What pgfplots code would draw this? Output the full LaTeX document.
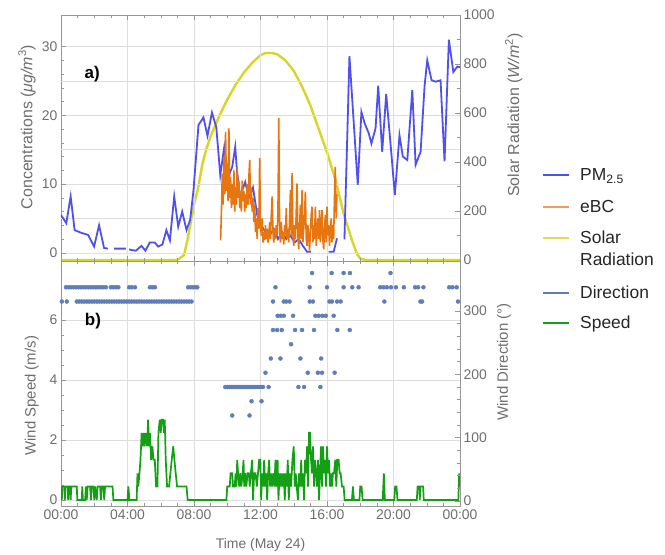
\documentclass[border=0pt]{standalone}
\usepackage{pgfplots}
\pgfplotsset{compat=1.18}
\usepackage{fontspec}
\setmainfont{Liberation Sans}

\definecolor{pmblue}{RGB}{80,80,240}
\definecolor{ebcorange}{RGB}{232,118,16}
\definecolor{solaryellow}{RGB}{214,214,40}
\definecolor{dirblue}{RGB}{95,125,185}
\definecolor{spdgreen}{RGB}{20,160,20}
\definecolor{framegray}{RGB}{150,150,150}
\definecolor{gridgray}{RGB}{222,222,222}
\definecolor{labelgray}{RGB}{110,110,110}

\pgfplotsset{
  panel/.style={
    scale only axis, width=399bp, xmin=0, xmax=24,
    tick align=inside,
    axis line style={framegray, line width=0.6bp},
    every tick/.style={framegray, line width=0.5bp},
    major tick length=5bp, minor tick length=3bp,
    tick label style={font=\fontsize{14}{16}\selectfont, text=labelgray},
    label style={font=\fontsize{15}{17}\selectfont, text=labelgray},
    xlabel style={font=\fontsize{14}{16}\selectfont},
    /pgf/number format/assume math mode=true,
    /pgf/number format/1000 sep={},
    xtick={0,4,...,24}, minor x tick num=3,
    grid style={gridgray, line width=0.5bp},
  },
  legline/.style={legend image code/.code={\draw[##1] (0bp,5.5bp) -- (26bp,5.5bp);}},
}
% struts that set the spacing of the legend rows
\newcommand{\lrow}[2]{\rule[-#1bp]{0pt}{#2bp}}

\begin{document}
\begin{tikzpicture}
\path (-61bp,15bp) rectangle (604bp,-537bp);

% ---- panel a), right axis: solar radiation
\begin{axis}[panel, at={(0,0)}, anchor=north west, height=246bp,
  axis x line=none, axis y line*=right,
  ymin=-4, ymax=1000, ytick={0,200,...,1000}, minor y tick num=1,
  ylabel={Solar Radiation (\textit{W/m}\textsuperscript{2})},
  ylabel style={font=\fontsize{16}{18}\selectfont, at={(axis description cs:1.135,0.593)}, anchor=center}]
\addplot[solaryellow, line width=2.4bp] table {
x y
0 0
6.9 0
7.1 5
7.4 20
7.6 80
7.8 150
8.0 225
8.25 295
8.5 390
8.75 455
9.0 505
9.5 585
10.0 655
10.5 715
11.0 765
11.5 805
12.0 836
12.3 845
12.7 845
13.0 840
13.5 815
14.0 772
14.5 708
15.0 631
15.5 535
16.0 440
16.5 330
17.0 190
17.5 81
17.8 25
18.0 6
18.3 0
24 0
};
\end{axis}

% ---- panel a), left axis: PM2.5 and eBC
\begin{axis}[panel, at={(0,0)}, anchor=north west, height=246bp,
  ymin=-1.2, ymax=34.6, ytick={0,10,20,30}, minor y tick num=4,
  ytick pos=left, xtick pos=both, xticklabels={},
  xmajorgrids, ymajorgrids,
  extra y ticks={5,15,25}, extra y tick labels={},
  extra y tick style={grid=major, major tick length=0pt},
  unbounded coords=jump,
  ylabel={Concentrations (\textit{μg/m}\textsuperscript{3})},
  ylabel style={font=\fontsize{16}{18}\selectfont, at={(axis description cs:-0.085,0.545)}, anchor=center}]
\addplot[pmblue, line width=1.8bp] table {
x y
0.00 5.5
0.32 4.3
0.58 8.2
0.82 3.3
1.22 2.9
1.63 2.6
1.99 0.9
2.29 4.0
2.59 0.7
2.83 0.6
2.95 nan
3.20 0.6
3.90 0.6
4.00 nan
4.10 0.5
4.24 0.4
4.50 0.3
4.84 1.0
5.08 0.3
5.34 1.5
5.64 1.5
5.84 0.9
6.10 1.2
6.34 3.3
6.55 1.8
6.81 8.2
7.05 3.8
7.29 6.0
7.55 3.3
7.77 4.8
7.97 9.1
8.27 18.6
8.57 19.7
8.81 17.0
9.08 20.4
9.34 18.3
9.58 11.3
9.82 15.4
10.05 11.0
10.30 12.5
10.48 15.4
10.58 12.0
10.78 8.2
11.08 10.3
11.30 8.0
11.55 9.5
11.80 5.5
12.05 4.0
12.30 3.0
12.55 2.5
12.80 3.5
13.05 2.0
13.30 3.0
13.55 2.0
13.80 2.5
14.05 1.5
14.30 2.0
14.55 1.0
14.80 0.15
15.05 0.15
15.10 nan
16.10 0.15
16.40 0.15
16.60 2.1
16.80 nan
17.05 1.95
17.35 28.6
17.85 9.9
18.07 20.5
18.27 18.8
18.51 17.4
18.67 15.9
18.92 18.1
19.08 24.3
19.32 14.7
19.56 23.1
19.82 15.9
20.08 8.4
20.36 17.1
20.56 14.0
20.83 13.5
21.13 23.7
21.33 12.8
21.63 14.7
21.87 24.3
22.03 28.0
22.29 25.1
22.53 24.9
22.83 25.1
23.07 13.3
23.33 31.0
23.60 26.3
23.84 27.1
24.00 27.0
};
\addplot[ebcorange, line width=1.6bp] table {
x y
9.60 1.8
9.65 6.0
9.70 11.5
9.75 7.0
9.80 14.0
9.85 8.5
9.90 17.6
9.95 9.0
10.00 13.0
10.05 7.5
10.10 18.1
10.15 8.0
10.20 11.0
10.25 6.5
10.30 10.0
10.35 7.0
10.40 12.0
10.45 6.0
10.50 9.5
10.55 7.0
10.60 12.5
10.65 8.0
10.70 10.5
10.75 6.5
10.80 9.0
10.85 6.0
10.90 10.5
10.95 7.5
11.00 9.0
11.05 6.0
11.10 8.5
11.15 6.5
11.20 10.0
11.25 7.0
11.30 11.0
11.35 13.5
11.40 7.0
11.45 9.5
11.50 6.0
11.55 8.0
11.60 4.5
11.65 7.0
11.70 3.0
11.75 5.0
11.80 2.0
11.85 6.5
11.90 3.5
11.95 13.8
12.00 4.0
12.05 2.5
12.10 5.0
12.15 1.5
12.20 3.0
12.25 1.8
12.30 4.0
12.35 2.0
12.40 3.5
12.45 1.5
12.50 2.5
12.55 4.5
12.60 2.0
12.65 5.5
12.70 8.2
12.75 3.0
12.80 1.5
12.85 3.5
12.90 2.0
12.95 4.0
13.00 2.5
13.05 6.0
13.10 19.6
13.15 3.0
13.20 1.5
13.25 4.5
13.30 2.0
13.35 3.0
13.40 1.2
13.45 4.0
13.50 2.5
13.55 6.5
13.60 2.0
13.65 3.5
13.70 1.5
13.75 5.0
13.80 9.1
13.85 2.5
13.90 11.6
13.95 3.0
14.00 1.0
14.05 4.0
14.10 2.0
14.15 6.0
14.20 10.1
14.25 2.5
14.30 0.5
14.35 3.5
14.40 7.0
14.45 2.0
14.50 9.1
14.55 1.5
14.60 3.5
14.65 5.5
14.70 8.9
14.75 2.0
14.80 1.0
14.85 4.0
14.90 2.5
14.95 0.3
15.00 3.0
15.05 5.5
15.10 6.7
15.15 1.5
15.20 4.0
15.25 2.0
15.30 6.7
15.35 1.0
15.40 3.5
15.45 5.0
15.50 2.0
15.55 6.2
15.60 1.5
15.65 4.0
15.70 6.2
15.75 2.0
15.80 0.5
15.85 3.5
15.90 5.5
15.95 1.5
16.00 6.7
16.05 2.5
16.10 4.0
16.15 1.0
16.20 3.0
16.25 5.0
16.30 1.5
16.35 4.0
16.40 2.0
16.45 8.0
16.50 12.5
16.55 5.0
16.60 8.5
};
\node[font=\bfseries\fontsize{17}{20}\selectfont] at (rel axis cs:0.078,0.76) {a)};
\end{axis}

% ---- panel b), left axis: wind speed
\begin{axis}[panel, at={(0,-246bp)}, anchor=north west, height=245bp,
  ymin=-0.2, ymax=7.97, ytick={0,2,4,6}, minor y tick num=3,
  ytick pos=left, xtick pos=both,
  xticklabels={00:00,04:00,08:00,12:00,16:00,20:00,00:00},
  xmajorgrids, ymajorgrids,
  ylabel={Wind Speed (m/s)},
  ylabel style={at={(axis description cs:-0.073,0.45)}, anchor=center},
  xlabel={Time (May 24)},
  xlabel style={at={(axis description cs:0.5,-0.159)}, anchor=center}]
\addplot[spdgreen, line width=1.7bp] table {
x y
0.00 0.45
0.05 0.00
0.08 0.45
0.20 0.45
0.23 0.00
0.27 0.45
0.40 0.45
0.43 0.00
0.47 0.45
0.55 0.45
0.58 0.00
0.62 0.45
0.95 0.45
0.98 0.00
1.25 0.00
1.28 0.45
1.32 0.00
1.45 0.00
1.50 0.45
1.55 0.00
1.60 0.45
1.75 0.45
1.80 0.00
1.85 0.45
1.95 0.45
2.00 0.00
2.05 0.45
2.15 0.00
2.20 0.45
2.35 0.45
2.40 0.00
2.45 0.45
2.55 0.45
2.60 0.00
2.65 0.45
3.10 0.45
3.15 0.00
4.00 0.00
4.05 0.45
4.12 0.00
4.55 0.00
4.60 0.89
4.65 0.45
4.72 0.89
4.78 1.34
4.85 2.24
4.90 1.79
4.97 2.24
5.03 1.79
5.10 2.24
5.18 1.79
5.24 2.68
5.30 1.79
5.35 2.24
5.42 1.34
5.50 1.79
5.56 1.34
5.64 1.34
5.72 0.45
5.80 0.45
5.86 2.24
5.94 2.68
6.00 2.24
6.06 2.68
6.14 2.68
6.20 2.24
6.24 2.68
6.30 1.34
6.38 0.45
6.50 0.45
6.58 0.89
6.66 1.34
6.75 1.79
6.82 1.34
6.90 0.89
6.98 0.45
7.55 0.45
7.62 0.00
9.95 0.00
10.00 0.45
10.15 0.45
10.20 0.89
10.30 0.89
10.35 0.45
10.45 0.45
10.50 0.89
10.55 0.45
10.60 1.34
10.65 0.89
10.72 0.45
10.78 0.89
10.85 0.45
10.92 0.89
10.98 1.34
11.02 0.45
11.08 0.89
11.15 0.45
11.22 0.89
11.30 0.89
11.35 0.45
11.42 0.89
11.50 1.34
11.55 0.00
11.62 0.89
11.70 0.89
11.78 0.45
11.85 0.89
11.92 1.34
11.99 1.34
12.04 0.00
12.10 0.89
12.16 0.45
12.22 1.34
12.28 0.45
12.35 0.89
12.40 0.00
12.46 0.89
12.52 1.34
12.58 0.45
12.64 0.89
12.70 0.45
12.78 0.89
12.84 0.45
12.90 1.34
12.96 0.45
13.03 1.34
13.08 0.00
13.15 0.89
13.22 0.45
13.28 0.89
13.34 0.45
13.40 0.89
13.46 0.00
13.52 0.89
13.58 0.45
13.64 1.34
13.70 0.00
13.78 0.89
13.84 0.45
13.92 1.34
14.00 1.79
14.06 0.45
14.12 0.89
14.18 0.45
14.25 0.00
14.32 0.89
14.38 0.45
14.45 1.34
14.50 0.45
14.56 0.89
14.62 0.00
14.68 1.34
14.74 0.89
14.80 1.79
14.86 0.45
14.92 2.24
14.98 2.24
15.04 1.34
15.10 0.89
15.16 1.79
15.22 0.45
15.28 1.34
15.34 0.89
15.40 0.45
15.46 1.34
15.52 0.00
15.58 0.89
15.64 1.79
15.70 0.45
15.76 1.79
15.82 0.89
15.88 1.34
15.94 0.45
16.00 1.79
16.06 0.89
16.12 1.34
16.18 0.45
16.24 0.89
16.30 0.45
16.36 0.89
16.42 0.89
16.50 1.34
16.56 0.45
16.62 1.34
16.70 1.34
16.76 0.89
16.82 0.89
16.90 0.45
17.00 0.45
17.06 0.00
17.50 0.00
17.56 0.45
17.62 0.00
17.95 0.00
18.00 0.45
18.08 0.45
18.14 0.00
19.35 0.00
19.42 0.89
19.48 0.00
20.05 0.00
20.10 0.45
20.18 0.45
20.24 0.00
21.40 0.00
21.45 0.45
21.55 0.45
21.58 0.00
21.62 0.45
21.78 0.45
21.82 0.00
23.90 0.00
23.95 0.89
24.00 0.45
};
\node[font=\bfseries\fontsize{17}{20}\selectfont] at (rel axis cs:0.08,0.755) {b)};
\end{axis}

% ---- panel b), right axis: wind direction, and the legend
\begin{axis}[panel, at={(0,-246bp)}, anchor=north west, height=245bp,
  axis x line=none, axis y line*=right,
  ymin=-8, ymax=379, ytick={0,100,200,300}, minor y tick num=4,
  ylabel={Wind Direction (°)},
  ylabel style={at={(axis description cs:1.110,0.588)}, anchor=center},
  legend style={at={(axis description cs:1.2055,1.3776)}, anchor=north west,
    draw=none, fill=none, inner sep=0pt, row sep=0pt, column sep=10bp,
    font=\fontsize{17.5}{21}\selectfont, text=black!85,
    cells={anchor=base west},
    nodes={inner sep=0pt, text depth=, text height=}},
  legline]
\addplot[only marks, mark=*, mark size=2bp, dirblue, forget plot] table {
x y
0.30 337.5
0.45 337.5
0.60 337.5
0.75 337.5
0.90 337.5
1.05 337.5
1.20 337.5
1.35 337.5
1.50 337.5
1.65 337.5
1.80 337.5
1.95 337.5
2.10 337.5
2.25 337.5
2.40 337.5
2.55 337.5
2.70 337.5
3.00 337.5
3.15 337.5
3.30 337.5
3.45 337.5
4.10 337.5
4.25 337.5
4.45 337.5
5.35 337.5
5.50 337.5
5.65 337.5
7.65 337.5
7.80 337.5
7.95 337.5
8.10 337.5
8.20 337.5
0.05 315
0.35 315
0.95 315
1.10 315
1.25 315
1.40 315
1.55 315
1.70 315
1.85 315
2.00 315
2.15 315
2.30 315
2.45 315
2.60 315
2.75 315
2.90 315
3.05 315
3.20 315
3.35 315
3.50 315
3.65 315
3.80 315
3.95 315
4.10 315
4.25 315
4.40 315
4.55 315
4.70 315
4.85 315
5.00 315
5.15 315
5.30 315
5.45 315
5.60 315
5.75 315
5.90 315
6.05 315
6.20 315
6.35 315
6.50 315
6.65 315
6.80 315
6.95 315
7.10 315
7.25 315
7.40 315
7.55 315
7.70 315
7.85 315
9.88 180
10.00 180
10.12 180
10.24 180
10.36 180
10.48 180
10.60 180
10.72 180
10.84 180
10.96 180
11.08 180
11.20 180
11.32 180
11.44 180
11.56 180
11.68 180
11.80 180
11.92 180
12.04 180
12.15 180
12.49 180
14.28 180
14.62 180
15.60 180
11.46 157.5
12.06 157.5
10.30 135
11.34 135
12.30 202.5
14.84 202.5
15.45 202.5
15.70 202.5
16.46 202.5
12.62 225
13.20 225
14.40 225
15.65 225
13.84 247.5
12.75 270
13.00 270
13.28 270
14.08 270
14.50 270
15.22 270
16.62 270
17.37 270
13.03 292.5
13.22 292.5
13.40 292.5
13.96 292.5
15.30 292.5
15.50 292.5
15.72 292.5
15.92 292.5
16.40 292.5
12.75 315
13.40 315
13.55 315
13.75 315
14.96 315
15.15 315
16.15 315
16.30 315
16.60 315
16.82 315
19.45 315
21.62 315
21.72 315
23.88 315
12.90 337.5
14.96 337.5
16.00 337.5
17.00 337.5
17.52 337.5
17.90 337.5
19.20 337.5
19.40 337.5
19.60 337.5
19.85 337.5
20.15 337.5
20.62 337.5
21.30 337.5
21.48 337.5
21.80 337.5
23.35 337.5
23.55 337.5
23.80 337.5
15.10 360
16.28 360
17.00 360
17.38 360
19.82 360
};
\addlegendimage{pmblue, line width=2bp}
\addlegendentry{\lrow{20}{15}PM\textsubscript{2.5}}
\addlegendimage{ebcorange!70, line width=2bp}
\addlegendentry{\lrow{18}{15}eBC}
\addlegendimage{solaryellow!80, line width=2bp}
\addlegendentry{\lrow{9}{15}Solar}
\addlegendimage{empty legend}
\addlegendentry{\lrow{21}{15}Radiation}
\addlegendimage{dirblue, line width=2bp}
\addlegendentry{\lrow{17}{15}Direction}
\addlegendimage{spdgreen, line width=2bp}
\addlegendentry{\lrow{5}{15}Speed}
\end{axis}
\end{tikzpicture}
\end{document}
